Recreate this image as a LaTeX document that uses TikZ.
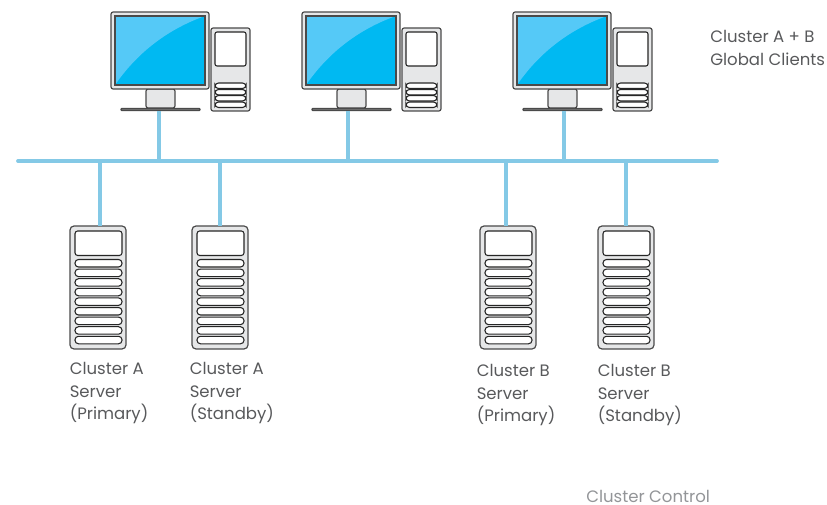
\documentclass[tikz,border=0pt]{standalone}
\usepackage{fontspec}
\setmainfont{Poppins}
\definecolor{busblue}{HTML}{84C9E6}
\definecolor{screenblue}{HTML}{00B9F2}
\definecolor{glare}{HTML}{55C9F7}
\definecolor{panel}{HTML}{E6E7E8}
\definecolor{edge}{HTML}{4A4A4A}
\definecolor{labelgray}{HTML}{58595B}
\definecolor{ctrlgray}{HTML}{939598}
\tikzset{
  px/.style={x=0.75pt,y=-0.75pt},
  box/.style={draw=edge,line width=0.9pt,fill=panel,rounded corners=1.6pt},
  slot/.style={draw=black!85,line width=0.8pt,fill=white,rounded corners=2.6pt},
  wire/.style={draw=busblue,line width=2.8pt},
  lbl/.style={anchor=north west,align=left,text=labelgray,font=\fontsize{12.4}{16.9}\selectfont,inner sep=0pt},
  ctl/.style={anchor=base west,text=ctrlgray,font=\fontsize{12.4}{14}\selectfont,inner sep=0pt},
}
\newcommand{\mypc}[3]{%
  \begin{scope}[shift={(#2,0)}]
    \draw[box] (35,89) rectangle (64,108);
    \draw[box,fill=edge!70,rounded corners=0.5pt] (10,108.5) rectangle (89,110.5);
    \coordinate (#1) at (#3,111);
    \draw[box,fill=panel] (0,12) rectangle (98,89);
    \fill[screenblue] (4,16) rectangle (94,85);
    \fill[glare] (4,85) .. controls (28,50) and (60,28) .. (94,16) -- (4,16) -- cycle;
    \draw[edge,line width=0.9pt] (4,16) rectangle (94,85);
    \draw[box] (100,28) rectangle (139,111);
    \draw[slot,rounded corners=1.5pt] (104,32) rectangle (135,66);
    \foreach \yy in {83,89.5,95.5,102}{\draw[slot] (104,\yy) rectangle (135,\yy+5.5);}
  \end{scope}}
\newcommand{\myserver}[3]{%
  \begin{scope}[shift={(#2,0)}]
    \draw[box,rounded corners=3pt] (0,226) rectangle (56,349);
    \coordinate (#1) at (#3,226);
    \draw[slot,rounded corners=2pt] (5,231) rectangle (52,255.5);
    \foreach \yy in {0,...,8}{\draw[slot] (5,259.5+\yy*9.6) rectangle (52,267+\yy*9.6);}
  \end{scope}}
\begin{document}
\begin{tikzpicture}[px]
\useasboundingbox (0,0) rectangle (827,505);
\coordinate (busL) at (18,161);
\coordinate (busR) at (717,161);
\mypc{pcA}{111}{48}
\mypc{pcB}{302}{46}
\mypc{pcC}{513}{51}
\myserver{srvA}{70}{30}
\myserver{srvB}{192}{28}
\myserver{srvC}{480}{26}
\myserver{srvD}{598}{28}
\draw[wire,line cap=round] (busL) -- (busR);
\foreach \n in {pcA,pcB,pcC,srvA,srvB,srvC,srvD}{\draw[wire] (\n) -- (\n |- busL);}
\node[lbl] (tClients) at (710,30) {Cluster A + B\\Global Clients};
\node[lbl] (tA1) at (69.5,362) {Cluster A\\Server\\(Primary)};
\node[lbl] (tA2) at (189.5,362) {Cluster A\\Server\\(Standby)};
\node[lbl] (tB1) at (476.5,364) {Cluster B\\Server\\(Primary)};
\node[lbl] (tB2) at (597.5,364) {Cluster B\\Server\\(Standby)};
\node[ctl] (tCtl) at (586,502) {Cluster Control};
\end{tikzpicture}
\end{document}
